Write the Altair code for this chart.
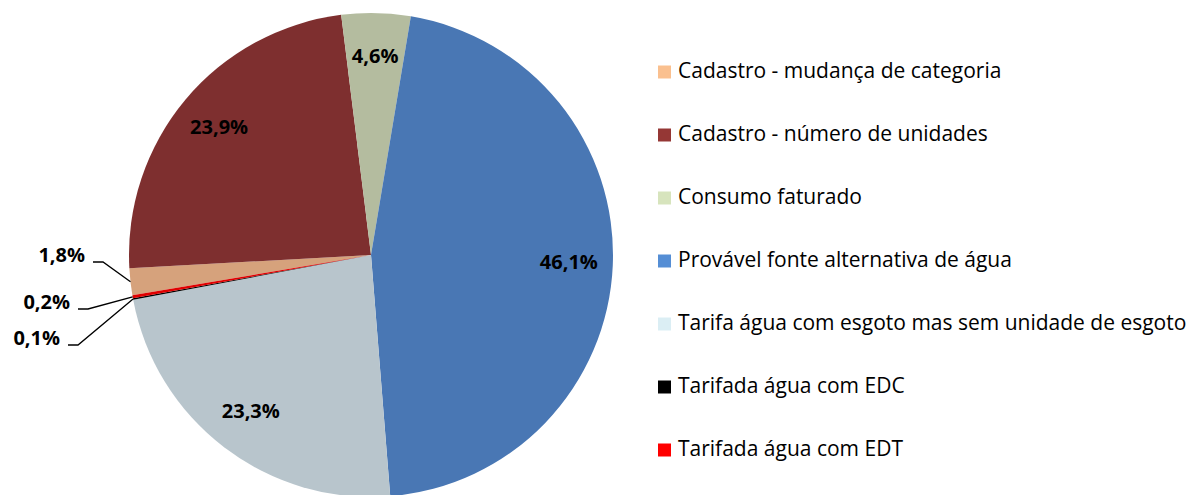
import math
import altair as alt
import pandas as pd

# ---------------- data ----------------
categories = [
    "Cadastro - mudança de categoria",
    "Cadastro - número de unidades",
    "Consumo faturado",
    "Provável fonte alternativa de água",
    "Tarifa água com esgoto mas sem unidade de esgoto",
    "Tarifada  água  com EDC",
    "Tarifada água  com EDT",
]
values = [1.8, 23.9, 4.6, 46.1, 23.3, 0.1, 0.2]
labels = ["1,8%", "23,9%", "4,6%", "46,1%", "23,3%", "0,1%", "0,2%"]

# ---------------- styles ----------------
pie_colors = ["#D6A27C", "#7E2F2F", "#B4BC9F", "#4977B4", "#B8C5CC", "#000000", "#E00000"]
legend_colors = ["#FAC08F", "#953735", "#D7E4BD", "#558ED5", "#DBEEF4", "#000000", "#FF0000"]

W, H = 1190, 495
CX, CY, R = 371, 255, 242
START_DEG = 260.4
LABEL_R = 198
FONT = "Open Sans"

# layout for the outside labels of small slices: (right edge x, centre y)
small_label_layout = {
    categories[0]: (85, 256),
    categories[6]: (70, 303),
    categories[5]: (60, 339),
}

df = pd.DataFrame({
    "idx": list(range(len(categories))),
    "cat": categories,
    "value": values,
    "pie_color": pie_colors,
    "legend_color": legend_colors,
})
df["inner_label"] = [l if c not in small_label_layout else "" for c, l in zip(categories, labels)]

# slice mid angles (derived from values)
total = sum(values)
cum = 0.0
mids = {}
for c, v in zip(categories, values):
    mids[c] = START_DEG + (cum + v / 2) / total * 360.0
    cum += v

small_rows, line_rows = [], []
for c, l in zip(categories, labels):
    if c in small_label_layout:
        rx, cy = small_label_layout[c]
        small_rows.append({"cat": c, "label": l, "x": rx, "y": cy})
        a = math.radians(mids[c])
        ex = CX + R * math.sin(a)
        ey = CY - R * math.cos(a)
        ly = cy + 6
        line_rows += [
            {"cat": c, "o": 0, "x": rx + 8, "y": ly},
            {"cat": c, "o": 1, "x": rx + 18, "y": ly},
            {"cat": c, "o": 2, "x": ex, "y": ey},
        ]
small_df = pd.DataFrame(small_rows)
line_df = pd.DataFrame(line_rows)

t0 = math.radians(START_DEG)
theta_enc = alt.Theta("value:Q", stack=True, scale=alt.Scale(range=[t0, t0 + 2 * math.pi]))

base = alt.Chart(df)

pie = base.mark_arc(outerRadius=R, strokeWidth=0).encode(
    theta=theta_enc,
    color=alt.Color("pie_color:N", scale=None),
    order=alt.Order("idx:Q"),
    x=alt.value(CX),
    y=alt.value(CY),
)

inner_text = base.mark_text(
    radius=LABEL_R, font=FONT, fontSize=20, fontWeight="bold", color="#000000"
).encode(
    theta=theta_enc,
    text="inner_label:N",
    order=alt.Order("idx:Q"),
    x=alt.value(CX),
    y=alt.value(CY),
)

xs = alt.Scale(domain=[0, W], range=[0, W])
ys = alt.Scale(domain=[0, H], range=[0, H])

leaders = alt.Chart(line_df).mark_line(color="#000000", strokeWidth=1.3).encode(
    x=alt.X("x:Q", scale=xs, axis=None),
    y=alt.Y("y:Q", scale=ys, axis=None),
    detail="cat:N",
    order="o:Q",
)

small_text = alt.Chart(small_df).mark_text(
    align="right", baseline="middle", font=FONT, fontSize=20, fontWeight="bold", color="#000000"
).encode(
    x=alt.X("x:Q", scale=xs, axis=None),
    y=alt.Y("y:Q", scale=ys, axis=None),
    text="label:N",
)

leg_y = alt.Y("cat:N", sort=categories, scale=alt.Scale(range=[72, 450], padding=0), axis=None)

leg_sq = base.mark_square(size=169, opacity=1).encode(
    x=alt.value(664.5),
    y=leg_y,
    color=alt.Color("legend_color:N", scale=None),
)

leg_txt = base.mark_text(
    align="left", baseline="middle", font=FONT, fontSize=21, color="#000000"
).encode(
    x=alt.value(678),
    y=leg_y,
    text="cat:N",
)

chart = (
    alt.layer(pie, inner_text, leaders, small_text, leg_sq, leg_txt)
    .resolve_scale(x="independent", y="independent")
    .properties(width=W, height=H, autosize=alt.AutoSizeParams(type="none"), padding=0)
    .configure_view(stroke=None)
)

chart.save("out.html", embed_options={"renderer": "svg", "actions": False})
